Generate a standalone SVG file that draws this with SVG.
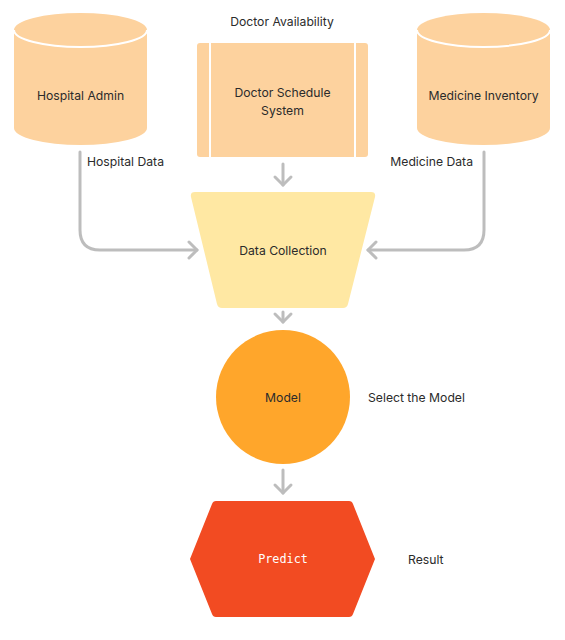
<svg xmlns="http://www.w3.org/2000/svg" width="565" height="640" viewBox="0 0 565 640">
<style>
text{font-family:Inter,"Noto Sans","Liberation Sans",sans-serif;font-size:12.2px;fill:#2b2b2b;dominant-baseline:central}
.c{text-anchor:middle}
.peach{fill:#FDD29E}
.conn path{fill:none;stroke:#BDBDBD;stroke-width:3;stroke-linecap:round;stroke-linejoin:round}
</style>
<rect width="565" height="640" fill="#ffffff"/>
<g class="conn" id="connectors">
<path d="M80,152 V230 Q80,250 100,250 H197"/>
<path d="M189,242 L197,250 L189,258"/>
<path d="M484,152 V230 Q484,250 464,250 H368"/>
<path d="M376,242 L368,250 L376,258"/>
<path d="M283,164 V185"/>
<path d="M275,177 L283,185 L291,177"/>
<path d="M283,312 V322"/>
<path d="M275,314 L283,322 L291,314"/>
<path d="M283,470 V493"/>
<path d="M275,485 L283,493 L291,485"/>
</g>
<g id="hospital-admin">
<path class="peach" d="M14,30 A66.5,17 0 0 1 147,30 V128 A66.5,17 0 0 1 14,128 Z"/>
<path d="M14,30 A66.5,17 0 0 0 147,30" fill="none" stroke="#fff" stroke-width="2"/>
<text class="c" x="80.5" y="95">Hospital Admin</text>
</g>
<g id="doctor-schedule">
<rect class="peach" x="197" y="43" width="171" height="114" rx="3"/>
<line x1="210" y1="43" x2="210" y2="157" stroke="#fff" stroke-width="2"/>
<line x1="355" y1="43" x2="355" y2="157" stroke="#fff" stroke-width="2"/>
<text class="c" x="282.5" y="92">Doctor Schedule</text>
<text class="c" x="282.5" y="110">System</text>
</g>
<g id="medicine-inventory">
<path class="peach" d="M417,30 A66.5,17 0 0 1 550,30 V128 A66.5,17 0 0 1 417,128 Z"/>
<path d="M417,30 A66.5,17 0 0 0 550,30" fill="none" stroke="#fff" stroke-width="2"/>
<text class="c" x="483.5" y="95">Medicine Inventory</text>
</g>
<g id="data-collection">
<path d="M195,192 H371 Q376,192 375,197 L348,304 Q347,308 343,308 H222 Q218,308 217,304 L191,197 Q190,192 195,192 Z" fill="#FFE8A3"/>
<text class="c" x="283" y="250">Data Collection</text>
</g>
<g id="model">
<circle cx="283" cy="397" r="67" fill="#FFA62B"/>
<text class="c" x="283" y="397">Model</text>
</g>
<g id="predict">
<path d="M216,501 H349 Q352,501 353,504 L375,559 L353,614 Q352,617 349,617 H216 Q213,617 212,614 L190,559 L212,504 Q213,501 216,501 Z" fill="#F24B22"/>
<text class="c" x="283" y="559" style="font-family:'DejaVu Sans Mono','Liberation Mono',monospace;fill:#ffffff;font-size:11.8px">Predict</text>
</g>
<g id="labels">
<text class="c" x="282" y="21">Doctor Availability</text>
<text x="87" y="161">Hospital Data</text>
<text x="473" y="161" text-anchor="end">Medicine Data</text>
<text x="368" y="397">Select the Model</text>
<text x="408" y="559">Result</text>
</g>
</svg>
